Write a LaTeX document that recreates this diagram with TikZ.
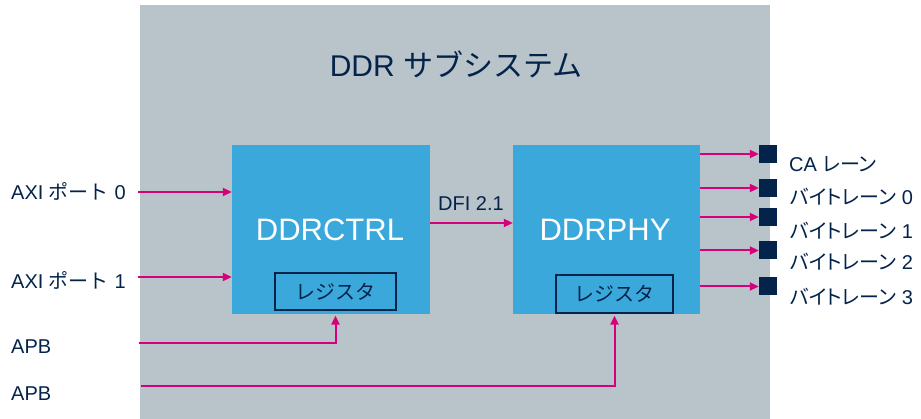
\documentclass[tikz,border=0pt]{standalone}
\usepackage{fontspec}
\setmainfont{Liberation Sans}
\newfontfamily\cjk{Noto Sans CJK JP}
\newfontfamily\cjkp[RawFeature=+palt]{Noto Sans CJK JP}
\usetikzlibrary{arrows.meta}
\definecolor{bgrey}{HTML}{B9C3CA}
\definecolor{blk}{HTML}{3BA8DB}
\definecolor{navy}{HTML}{03234B}
\definecolor{pinkc}{HTML}{D6007A}
\newcommand{\jp}[1]{{\cjk #1}}
\newcommand{\jpp}[1]{{\cjkp #1}}
\tikzset{
  block/.style={fill=blk, draw=none, inner sep=0pt},
  regbox/.style={fill=blk, draw=navy, line width=1.2pt, inner sep=0pt},
  sq/.style={fill=navy, draw=none, minimum size=18pt, inner sep=0pt},
  lbl/.style={text=navy, font=\fontsize{20}{24}\selectfont, inner sep=0pt},
  big/.style={text=white, font=\fontsize{31}{36}\selectfont, inner sep=0pt, anchor=base},
  conn/.style={draw=pinkc, line width=2pt, -{Triangle[length=9pt,width=8pt]}}
}
\begin{document}
\begin{tikzpicture}[x=1pt,y=-1pt]
\useasboundingbox (0,0) rectangle (921,419);
\fill[bgrey] (140,5) rectangle (770,419);
% title
\node[lbl, anchor=base, font=\fontsize{30}{36}\selectfont] (title) at (456,77) {DDR \jp{サブシステム}};
% blocks
\node[block, minimum width=198pt, minimum height=169pt] (ctrl) at (331,229.5) {};
\node[block, minimum width=187pt, minimum height=169pt] (phy) at (606.5,229.5) {};
\node[big] (ctrltxt) at (330,241) {DDRCTRL};
\node[big] (phytxt) at (605,241) {DDRPHY};
\node[regbox, minimum width=121pt, minimum height=37pt] (regc) at (335.5,291.5) {};
\node[regbox, minimum width=117pt, minimum height=38pt] (regp) at (614.5,294) {};
\node[lbl, anchor=base] (regctxt) at (335,299.5) {\jp{レジスタ}};
\node[lbl, anchor=base] (regptxt) at (614,301.5) {\jp{レジスタ}};
% DFI
\node[lbl, anchor=base west] (dfi) at (438,211) {DFI 2.1};
\path[conn] (ctrl.east |- 0,223) -- (phy.west |- 0,223);
% left labels
\node[lbl, anchor=base west] (axi0) at (11,199.3) {AXI \jp{ポート} 0};
\node[lbl, anchor=base west] (axi1) at (11,288.3) {AXI \jp{ポート} 1};
\node[lbl, anchor=base west] (apb0) at (11,353.3) {APB};
\node[lbl, anchor=base west] (apb1) at (11,400) {APB};
\coordinate (s0) at (138,192);
\coordinate (s1) at (138,277);
\coordinate (s2) at (139,343);
\coordinate (s3) at (141,386);
\path[conn] (s0) -- (s0 -| ctrl.west);
\path[conn] (s1) -- (s1 -| ctrl.west);
\path[conn] (s2) -- (s2 -| regc.south) -- ([yshift=-5pt]regc.south);
\path[conn] (s3) -- (s3 -| regp.south) -- ([yshift=-2pt]regp.south);
% right squares
\node[sq] (q0) at (768,154) {};
\node[sq] (q1) at (768,188) {};
\node[sq] (q2) at (768,217) {};
\node[sq] (q3) at (768,250.5) {};
\node[sq] (q4) at (768,286.5) {};
\foreach \i in {0,...,4} {\path[conn] (phy.east |- q\i) -- (q\i.west);}
\node[lbl, anchor=base west] (l0) at (789,171.7) {CA \jpp{レーン}};
\node[lbl, anchor=base west] (l1) at (790,205) {\jpp{バイトレーン} 0};
\node[lbl, anchor=base west] (l2) at (790,238.3) {\jpp{バイトレーン} 1};
\node[lbl, anchor=base west] (l3) at (790,269.3) {\jpp{バイトレーン} 2};
\node[lbl, anchor=base west] (l4) at (790,305) {\jpp{バイトレーン} 3};
\end{tikzpicture}
\end{document}
